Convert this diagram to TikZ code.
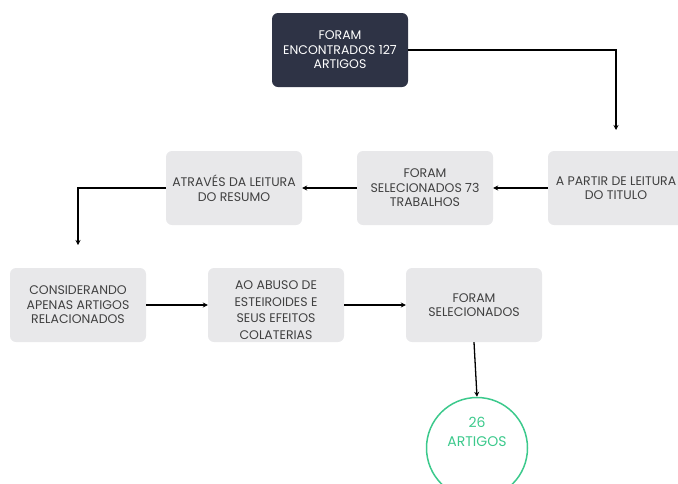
\documentclass[tikz,border=0pt]{standalone}
\usepackage{fontspec}
\setmainfont{Poppins}
\usetikzlibrary{arrows.meta}
\definecolor{navy}{HTML}{2E3345}
\definecolor{boxgray}{HTML}{E8E8EA}
\definecolor{txtgray}{HTML}{404040}
\definecolor{mint}{HTML}{3CC98C}
\begin{document}
\begin{tikzpicture}[x=1pt,y=-1pt,
  base/.style={rounded corners=6pt, minimum width=136pt, minimum height=74pt, align=center, inner sep=0pt, font=\fontsize{12.5}{14.5}\selectfont},
  darkbox/.style={base, fill=navy, text=white},
  graybox/.style={base, fill=boxgray, text=txtgray},
  conn/.style={line width=1.3pt, black, -{Stealth[length=5pt,width=5pt]}},
]
\useasboundingbox (0,0) rectangle (678,483);
\clip (0,0) rectangle (678,483);
\node[darkbox] (top) at (340,50) {FORAM\\ENCONTRADOS 127\\ARTIGOS};
\node[graybox] (a) at (616,188) {A PARTIR DE LEITURA\\DO TITULO};
\node[graybox] (b) at (425,188) {FORAM\\SELECIONADOS 73\\TRABALHOS};
\node[graybox] (c) at (234,188) {ATRAVÉS DA LEITURA\\DO RESUMO};
\node[graybox] (d) at (78,305) {CONSIDERANDO\\APENAS ARTIGOS\\RELACIONADOS};
\node[graybox] (e) at (276,305) {};
\node[text=txtgray, align=center, font=\fontsize{12.5}{16.5}\selectfont] (etext) at (276,310) {AO ABUSO DE\\ESTEIROIDES E\\SEUS EFEITOS\\COLATERIAS};
\node[graybox] (f) at (474,305) {FORAM\\SELECIONADOS};
\node[circle, draw=mint, line width=1.5pt, minimum size=101pt, inner sep=0pt] (g) at (477,448) {};
\node[text=mint, align=center, font=\fontsize{14}{19}\selectfont] (gtext) at (477,432) {26\\ARTIGOS};
\coordinate (t1) at (616,50);
\coordinate (c1) at (78,188);
\coordinate (c2) at (78,245);
\coordinate (t2) at (616,130);
\draw[conn] (top.east) -- (t1) -- (t2);
\draw[conn] (a.west) -- (b.east);
\draw[conn] (b.west) -- (c.east);
\draw[conn] (c.west) -- (c1) -- (c2);
\draw[conn] (d.east) -- (e.west);
\draw[conn] (e.east) -- (f.west);
\draw[conn] (f.south) -- (g.north);
\end{tikzpicture}
\end{document}
